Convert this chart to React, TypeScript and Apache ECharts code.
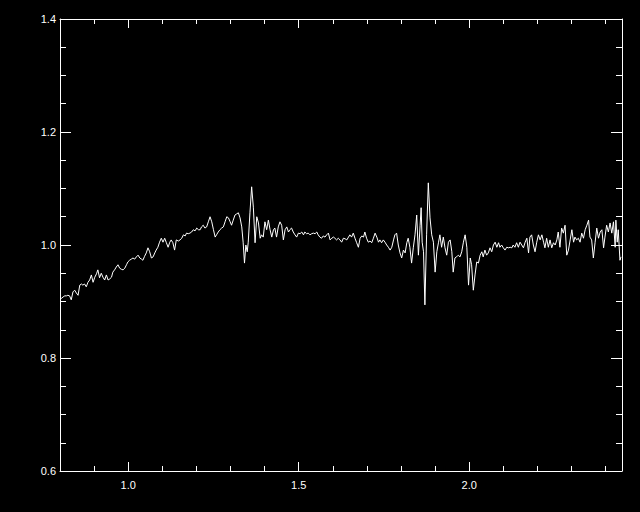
import React, { useEffect, useRef } from "react";
import * as echarts from "echarts";

const wavelength = [
  0.800,0.805,0.809,0.814,0.819,0.823,0.828,0.833,0.838,0.843,
  0.848,0.853,0.858,0.863,0.867,0.872,0.877,0.882,0.887,0.892,
  0.897,0.902,0.907,0.911,0.916,0.921,0.926,0.931,0.936,0.941,
  0.946,0.951,0.955,0.960,0.965,0.970,0.975,0.980,0.985,0.990,
  0.995,0.999,1.004,1.009,1.014,1.019,1.024,1.029,1.034,1.039,
  1.043,1.048,1.053,1.058,1.063,1.068,1.073,1.078,1.082,1.087,
  1.092,1.097,1.102,1.107,1.112,1.117,1.122,1.126,1.131,1.136,
  1.141,
  1.147,1.152,1.157,1.162,1.167,1.171,1.176,1.181,1.186,1.191,
  1.196,1.201,1.206,1.211,1.215,1.220,1.225,1.230,1.235,1.240,
  1.245,1.250,1.255,1.259,1.264,1.269,1.274,1.279,1.284,1.289,
  1.294,1.299,1.303,1.308,1.313,1.318,1.323,1.328,1.333,1.337,
  1.341,1.345,1.349,1.352,1.357,1.362,1.367,1.372,1.377,1.382,
  1.387,1.391,1.396,1.401,1.406,1.411,1.416,1.421,1.426,1.430,
  1.435,1.440,1.445,1.450,1.455,1.460,1.465,1.470,1.474,1.479,
  1.484,1.489,1.494,1.499,1.504,1.509,1.514,1.518,1.523,1.528,
  1.533,1.538,1.543,1.548,1.553,1.557,1.562,1.567,1.572,1.577,
  1.582,1.587,1.592,1.597,1.602,1.606,1.611,1.616,1.621,1.626,
  1.631,1.636,1.641,1.646,1.650,1.655,1.660,1.665,1.670,1.675,
  1.680,1.685,1.690,1.694,1.699,1.704,1.709,1.714,1.719,1.724,
  1.729,1.734,1.738,1.743,1.748,1.753,1.758,1.763,1.768,1.773,
  1.778,1.782,1.787,1.792,1.797,1.802,1.807,1.812,
  1.817,1.821,1.826,1.831,1.836,1.841,1.846,1.851,1.856,1.859,
  1.862,1.866,1.870,1.875,1.880,1.885,1.890,1.895,1.900,1.905,
  1.910,1.914,1.919,1.924,1.929,1.934,1.939,1.944,1.949,1.953,
  1.958,1.963,1.968,1.973,1.978,1.983,1.988,1.993,1.998,2.003,
  2.007,2.012,2.017,2.022,2.027,2.032,2.037,2.041,2.046,2.051,
  2.056,2.061,2.066,2.071,2.076,2.081,2.086,2.090,2.095,2.100,
  2.105,2.110,2.115,
  2.120,2.125,2.129,2.134,2.139,2.144,2.149,2.154,2.159,2.164,
  2.169,2.174,2.178,2.183,2.188,2.193,2.198,2.203,2.208,2.213,
  2.218,2.222,2.227,2.232,2.237,2.242,2.247,2.252,2.257,2.261,
  2.266,2.271,2.276,2.281,2.286,2.291,2.296,2.301,2.306,2.310,
  2.315,2.320,2.325,2.330,2.335,2.340,2.345,2.350,2.354,2.359,
  2.364,2.369,2.374,2.379,2.384,2.389,2.394,2.398,2.403,2.408,
  2.413,2.418,2.423,2.428,2.430,2.434,2.437,2.442,2.445,
];

const flux = [
  0.903,0.906,0.908,0.910,0.910,0.911,0.910,0.903,0.917,0.920,
  0.915,0.911,0.929,0.931,0.929,0.931,0.926,0.934,0.938,0.947,
  0.934,0.943,0.949,0.956,0.942,0.950,0.943,0.938,0.947,0.938,
  0.940,0.943,0.952,0.956,0.961,0.965,0.959,0.957,0.956,0.959,
  0.965,0.970,0.973,0.975,0.977,0.975,0.979,0.982,0.977,0.975,
  0.973,0.980,0.986,0.995,0.988,0.977,0.979,0.986,0.991,0.996,
  1.005,1.012,1.005,1.012,1.004,0.996,1.005,1.009,1.004,0.991,
  1.009,
  1.007,1.009,1.012,1.018,1.016,1.021,1.020,1.021,1.023,1.027,
  1.025,1.030,1.027,1.027,1.032,1.035,1.030,1.032,1.041,1.050,
  1.041,1.027,1.014,1.018,1.023,1.027,1.030,1.032,1.041,1.050,
  1.048,1.041,1.035,1.044,1.053,1.055,1.057,1.048,1.032,1.005,
  0.968,1.000,0.988,1.005,1.057,1.103,1.067,1.004,1.050,1.039,
  1.012,1.018,1.014,1.041,1.027,1.044,1.027,1.014,1.027,1.030,
  1.014,1.032,1.041,1.035,1.009,1.027,1.032,1.023,1.027,1.030,
  1.023,1.018,1.014,1.021,1.020,1.023,1.018,1.023,1.020,1.021,
  1.018,1.020,1.021,1.020,1.023,1.018,1.014,1.012,1.016,1.014,
  1.018,1.021,1.009,1.012,1.014,1.012,1.009,1.012,1.009,1.005,
  1.012,1.011,1.009,1.014,1.018,1.014,1.021,1.012,1.004,0.996,
  1.012,1.016,1.014,1.023,1.012,1.005,1.007,1.004,1.012,1.021,
  1.014,1.005,1.009,1.004,1.009,1.005,1.000,0.996,0.991,0.996,
  1.009,1.018,1.021,1.000,0.986,0.977,0.991,0.986,
  1.004,1.012,0.996,0.968,0.995,1.018,1.053,0.982,1.035,1.066,
  1.005,0.988,0.894,1.018,1.110,1.048,1.018,1.005,0.952,0.988,
  1.005,1.018,0.996,1.014,0.995,0.982,1.005,1.009,0.988,0.952,
  0.977,0.979,0.982,0.979,0.988,1.005,1.018,0.996,0.929,0.977,
  0.965,0.920,0.947,0.970,0.968,0.982,0.988,0.979,0.991,0.982,
  0.986,0.995,0.988,1.000,1.005,0.996,1.004,0.996,1.000,0.995,
  0.991,0.996,0.995,
  0.996,0.995,1.000,0.996,1.004,0.996,1.005,1.000,0.995,1.005,
  1.012,0.986,1.014,1.018,1.000,0.988,1.005,1.018,1.009,1.018,
  1.005,0.995,1.012,0.996,1.009,0.995,1.004,1.000,1.009,1.023,
  0.996,1.030,1.021,1.035,0.982,0.991,1.009,1.027,1.005,1.014,
  1.009,1.012,1.005,1.021,1.012,1.027,1.035,1.044,1.014,1.009,
  0.977,1.004,1.030,1.012,1.023,1.027,0.995,1.014,1.035,1.023,
  1.039,1.021,1.041,0.996,1.044,1.005,1.027,0.973,0.979,
];

const xMin = 0.8;
const xMax = 2.448;
const yMin = 0.6;
const yMax = 1.4;
const xMajorTicks = [1.0, 1.5, 2.0];
const xMinorTicks = [0.9, 1.1, 1.2, 1.3, 1.4, 1.6, 1.7, 1.8, 1.9, 2.1, 2.2, 2.3, 2.4];
const yMajorTicks = [0.6, 0.8, 1.0, 1.2, 1.4];
const yMinorTicks = [0.65, 0.7, 0.75, 0.85, 0.9, 0.95, 1.05, 1.1, 1.15, 1.25, 1.3, 1.35];

const FONT = "Liberation Sans";

function makeAxis(
  kind: "x" | "y",
  position: string,
  ticks: number[],
  tickLen: number,
  showLine: boolean,
  showLabel: boolean
) {
  return {
    type: "value",
    position,
    min: kind === "x" ? xMin : yMin,
    max: kind === "x" ? xMax : yMax,
    axisLine: { show: showLine, onZero: false, lineStyle: { color: "#ffffff", width: 1 } },
    axisTick: {
      show: true,
      inside: true,
      length: tickLen,
      customValues: ticks,
      lineStyle: { color: "#ffffff", width: 1 },
    },
    axisLabel: {
      show: showLabel,
      customValues: ticks,
      color: "#ffffff",
      fontFamily: FONT,
      fontSize: 11,
      margin: kind === "x" ? 8 : 4,
      formatter: (v: number) => v.toFixed(1),
    },
    splitLine: { show: false },
    minorTick: { show: false },
  };
}

export default function App() {
  const ref = useRef<HTMLDivElement>(null);
  useEffect(() => {
    if (!ref.current) return;
    const chart = echarts.init(ref.current, null, { renderer: "svg" });
    const points = wavelength.map((w, i) => [w, flux[i]]);
    chart.setOption({
      animation: false,
      backgroundColor: "#000000",
      grid: { left: 60, right: 18, top: 19, bottom: 41, containLabel: false },
      xAxis: [
        makeAxis("x", "bottom", xMajorTicks, 9, true, true),
        makeAxis("x", "bottom", xMinorTicks, 5, false, false),
        makeAxis("x", "top", xMajorTicks, 9, true, false),
        makeAxis("x", "top", xMinorTicks, 5, false, false),
      ],
      yAxis: [
        makeAxis("y", "left", yMajorTicks, 11, true, true),
        makeAxis("y", "left", yMinorTicks, 6, false, false),
        makeAxis("y", "right", yMajorTicks, 11, true, false),
        makeAxis("y", "right", yMinorTicks, 6, false, false),
      ],
      series: [
        {
          type: "line",
          xAxisIndex: 0,
          yAxisIndex: 0,
          data: points,
          showSymbol: false,
          symbol: "none",
          clip: true,
          lineStyle: { color: "#ffffff", width: 1 },
        },
      ],
    });
    return () => chart.dispose();
  }, []);
  return (
    <div
      ref={ref}
      style={{ position: "absolute", left: 0, top: 0, width: 640, height: 512, background: "#000" }}
    />
  );
}
